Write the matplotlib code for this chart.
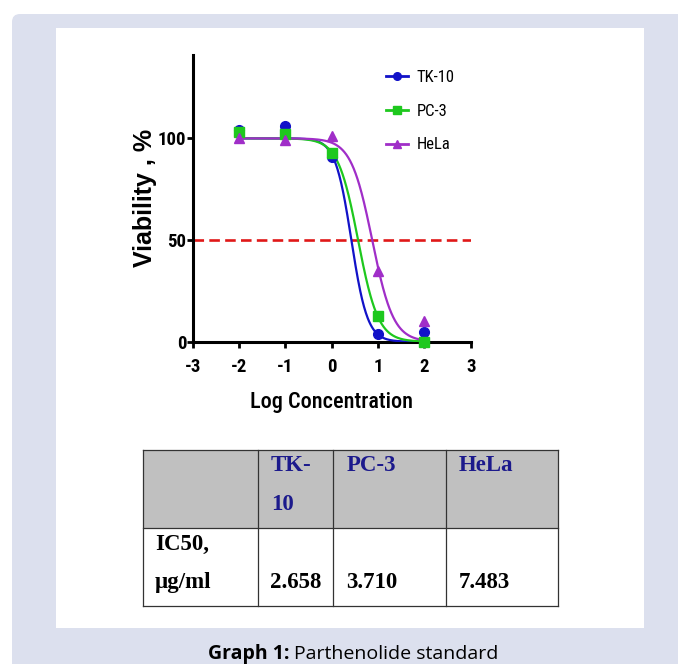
"""Parthenolide standard: dose-response curves with an IC50 table underneath."""
import numpy as np
import matplotlib
matplotlib.use("Agg")
import matplotlib.pyplot as plt
from matplotlib import font_manager
from matplotlib.patches import Rectangle, FancyBboxPatch

# ---------------------------------------------------------------------------
# data
# ---------------------------------------------------------------------------
cell_lines = ["TK-10", "PC-3", "HeLa"]
log_conc = [-2, -1, 0, 1, 2]
tk10_viab = [104, 106, 91, 4, 5]
pc3_viab = [103, 102, 93, 12.5, 0]
hela_viab = [100, 99, 101, 35, 10]
ic50_ugml = [2.658, 3.710, 7.483]
hill_slope = [2.5, 2.0, 1.9]

series_colors = ["#1212c8", "#1ec81e", "#a02ec8"]
series_markers = ["o", "s", "^"]

_installed = {f.name for f in font_manager.fontManager.ttflist}


def _pick(*names):
    for n in names:
        if n in _installed:
            return [n, "DejaVu Sans"]
    return ["DejaVu Sans"]


NARROW = _pick("Liberation Sans Narrow", "Arial Narrow", "Roboto Condensed",
               "DejaVu Sans Condensed", "Liberation Sans")
SANS = _pick("Liberation Sans", "Arial")
SERIF = _pick("Liberation Serif", "Times New Roman", "DejaVu Serif")
CAP = _pick("Open Sans", "Noto Sans")
LAVENDER = "#dce0ee"
plt.rcParams["axes.unicode_minus"] = False

W, H = 678, 664
fig = plt.figure(figsize=(W / 100, H / 100), dpi=100)
fig.patch.set_facecolor("white")

# page background / table / caption drawn in pixel space
bg = fig.add_axes([0, 0, 1, 1], zorder=0)
bg.set_xlim(0, W)
bg.set_ylim(H, 0)
bg.axis("off")
bg.add_patch(FancyBboxPatch((12, 14), W + 40, H + 40,
                            boxstyle="round,pad=0,rounding_size=8",
                            facecolor=LAVENDER, edgecolor="none"))
bg.add_patch(Rectangle((56, 28), 588, 600, facecolor="white", edgecolor="none"))

# ---------------------------------------------------------------------------
# dose-response plot
# ---------------------------------------------------------------------------
ax = fig.add_axes([192.7 / W, (H - 341.7) / H, 278 / W, 286.7 / H], zorder=2)
ax.patch.set_alpha(0)

xfit = np.linspace(-2, 2, 400)
for name, ys, ic, h, c, m in zip(cell_lines, [tk10_viab, pc3_viab, hela_viab],
                                 ic50_ugml, hill_slope, series_colors, series_markers):
    yfit = 100 / (1 + 10 ** (h * (xfit - np.log10(ic))))
    ax.plot(xfit, yfit, color=c, lw=1.6, zorder=3)
    ax.plot(log_conc, ys, ls="none", marker=m, color=c, ms=7, zorder=4,
            clip_on=False)
    ax.plot([], [], color=c, lw=2, marker=m, ms=5.5, label=name)

ax.plot([-3, 3], [50, 50], color="#e01818", lw=1.9, dashes=(4, 2), zorder=2)

ax.set_xlim(-3, 3)
ax.set_ylim(0, 141)
ax.set_xticks(range(-3, 4))
ax.set_yticks([0, 50, 100])
for s in ("top", "right"):
    ax.spines[s].set_visible(False)
for s in ("left", "bottom"):
    ax.spines[s].set_linewidth(2.2)
ax.tick_params(direction="out", length=4.5, width=2)
ax.tick_params(axis="x", pad=7)
ax.tick_params(axis="y", pad=0)
for lab in ax.get_xticklabels() + ax.get_yticklabels():
    lab.set_fontfamily(NARROW)
    lab.set_fontweight("bold")
    lab.set_fontsize(13.5)

ax.set_xlabel("Log Concentration", fontsize=16, family=NARROW,
              fontweight="medium", labelpad=11)
ax.set_ylabel("Viability , %", fontsize=18, fontweight="bold",
              family=SANS, labelpad=1)

leg = ax.legend(loc="upper left", bbox_to_anchor=(0.64, 1.0), frameon=False,
                prop={"family": NARROW, "size": 12}, labelspacing=1.12,
                handlelength=1.35, handletextpad=0.5)

# ---------------------------------------------------------------------------
# IC50 table
# ---------------------------------------------------------------------------
col_x = [143, 258, 333, 446, 558]
row_y = [450, 528, 606]
bg.add_patch(Rectangle((col_x[0], row_y[0]), col_x[-1] - col_x[0],
                       row_y[1] - row_y[0], facecolor="#c0c0c0", edgecolor="none"))
for x in col_x:
    bg.plot([x, x], [row_y[0], row_y[-1]], color="#333333", lw=0.9)
for y in row_y:
    bg.plot([col_x[0], col_x[-1]], [y, y], color="#333333", lw=0.9)

HEAD = "#1c1a8c"
TFS = 16.5
hdr_text = ["TK-", "PC-3", "HeLa"]
hdr_x = [271, 347, 459]
for t, x in zip(hdr_text, hdr_x):
    bg.text(x, 471, t, color=HEAD, family=SERIF, fontweight="bold",
            fontsize=TFS, va="baseline")
bg.text(hdr_x[0], 510, "10", color=HEAD, family=SERIF, fontweight="bold",
        fontsize=TFS, va="baseline")
bg.text(155, 550, "IC50,", family=SERIF, fontweight="bold", fontsize=TFS,
        va="baseline")
bg.text(155, 588, "µg/ml", family=SERIF, fontweight="bold", fontsize=TFS,
        va="baseline")
for v, x in zip(ic50_ugml, [270, 346, 459]):
    bg.text(x, 588, f"{v:.3f}", family=SERIF, fontweight="bold", fontsize=TFS,
            va="baseline")

# caption
bg.text(289, 659, "Graph 1:", family=CAP, fontweight="bold", fontsize=14,
        ha="right", va="baseline")
bg.text(294, 659, "Parthenolide standard", family=CAP, fontsize=14,
        ha="left", va="baseline")

fig.savefig("out.png", dpi=100)
